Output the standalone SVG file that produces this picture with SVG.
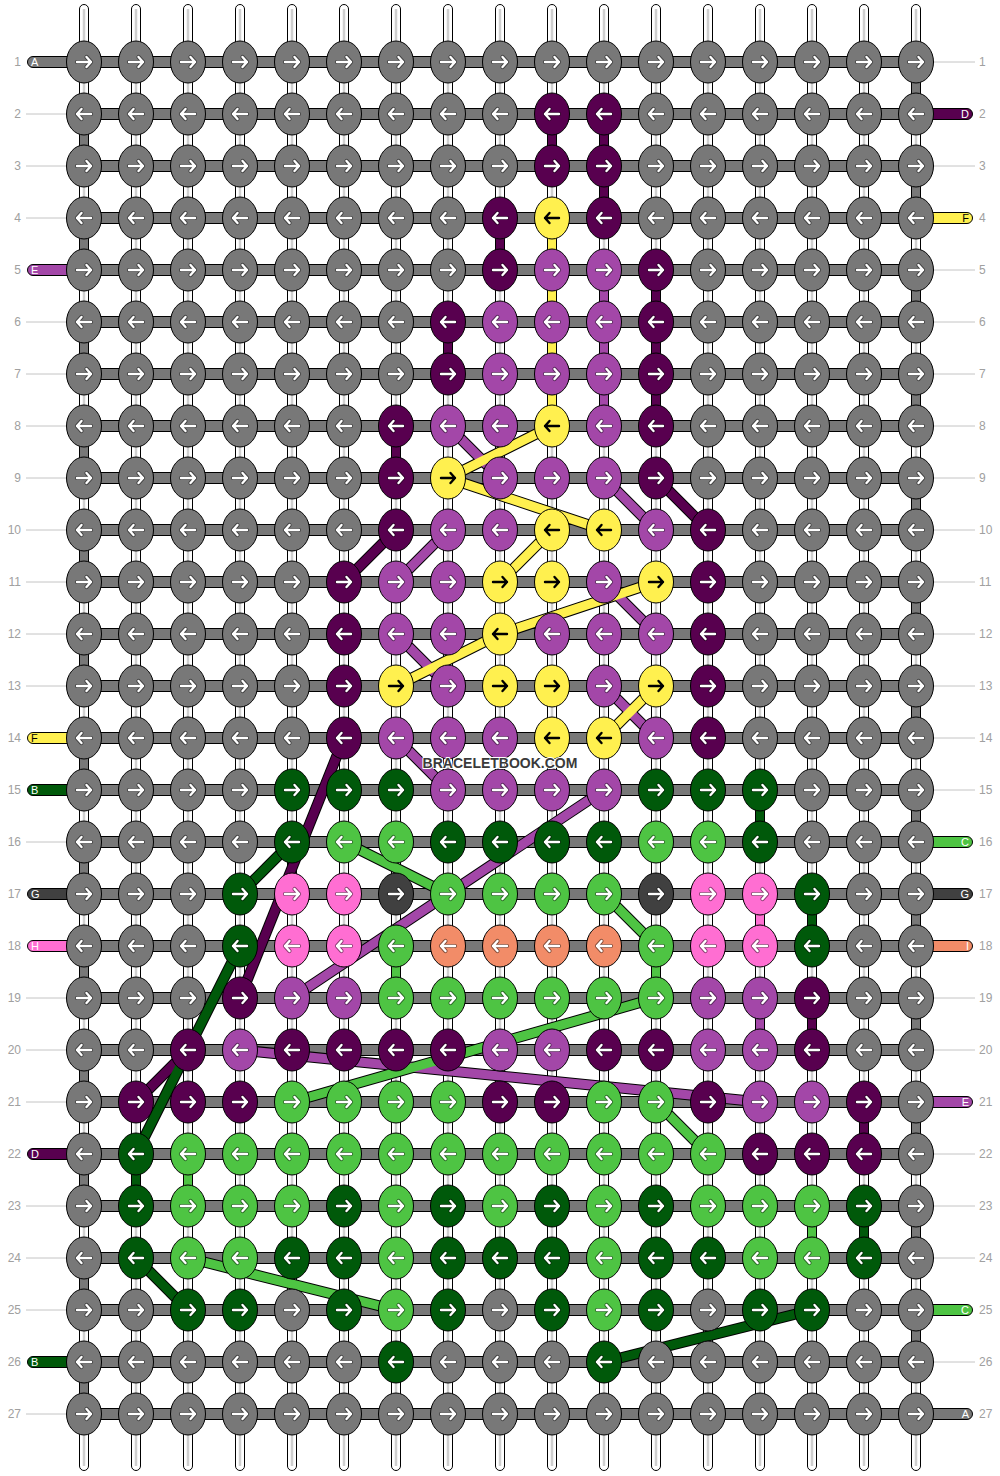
<svg xmlns="http://www.w3.org/2000/svg" xmlns:xlink="http://www.w3.org/1999/xlink" width="1000" height="1476" viewBox="0 0 1000 1476">
<style>
ellipse{stroke:#000;stroke-width:1}
.bar{fill:#787878;stroke:#000;stroke-width:1}
.pl{stroke:#000;stroke-width:1}
.g{fill:#787878}.p{fill:#58004f}.m{fill:#a347a8}.y{fill:#fff04f}.d{fill:#00590a}.l{fill:#4ec443}.k{fill:#404040}.h{fill:#ff6ed2}.o{fill:#f28c68}
.st{fill:#fff;stroke:#000;stroke-width:1}
.sl{stroke:#cfcfcf;stroke-width:2.5}
.seg rect{stroke:#000;stroke-width:1}
.ol{stroke:#000;stroke-width:11}
.tY{stroke:#fff04f;stroke-width:9}.tM{stroke:#a347a8;stroke-width:9}.tP{stroke:#58004f;stroke-width:9}.tD{stroke:#00590a;stroke-width:9}.tL{stroke:#4ec443;stroke-width:9}
.num{font-family:"Liberation Sans",Arial,sans-serif;font-size:12px;fill:#a0a0a0}
.lab{font-family:"Liberation Sans",Arial,sans-serif;font-size:11px;fill:#fff}
.labk{font-family:"Liberation Sans",Arial,sans-serif;font-size:11px;fill:#000}
.thin{stroke:#c4c4c4;stroke-width:1}
.aw{fill:none;stroke:#fff;stroke-width:2.4;stroke-linecap:round;stroke-linejoin:round}
.ao{fill:none;stroke:#000;stroke-opacity:.45;stroke-width:4.2;stroke-linecap:round;stroke-linejoin:round}
.ab{fill:none;stroke:#000;stroke-width:2.4;stroke-linecap:round;stroke-linejoin:round}
.wm{font-family:"Liberation Sans",Arial,sans-serif;font-size:14px;font-weight:bold;fill:#3a3a3a;stroke:#fff;stroke-width:2;paint-order:stroke;stroke-linejoin:round}
</style>
<defs>
<g id="R"><path class="ao" d="M-7 0H7M2.5-5L7 0 2.5 5"/><path class="aw" d="M-7 0H7M2.5-5L7 0 2.5 5"/></g>
<g id="L"><path class="ao" d="M7 0H-7M-2.5-5L-7 0-2.5 5"/><path class="aw" d="M7 0H-7M-2.5-5L-7 0-2.5 5"/></g>
<path id="Rb" class="ab" d="M-7 0H7M2.5-5L7 0 2.5 5"/>
<path id="Lb" class="ab" d="M7 0H-7M-2.5-5L-7 0-2.5 5"/>
</defs>
<rect width="1000" height="1476" fill="#fff"/>

<g id="rownumbers">
<g class="num" text-anchor="end">
<text x="21" y="66">1</text><text x="21" y="118">2</text><text x="21" y="170">3</text><text x="21" y="222">4</text><text x="21" y="274">5</text><text x="21" y="326">6</text><text x="21" y="378">7</text><text x="21" y="430">8</text><text x="21" y="482">9</text><text x="21" y="534">10</text><text x="21" y="586">11</text><text x="21" y="638">12</text><text x="21" y="690">13</text><text x="21" y="742">14</text><text x="21" y="794">15</text><text x="21" y="846">16</text><text x="21" y="898">17</text><text x="21" y="950">18</text><text x="21" y="1002">19</text><text x="21" y="1054">20</text><text x="21" y="1106">21</text><text x="21" y="1158">22</text><text x="21" y="1210">23</text><text x="21" y="1262">24</text><text x="21" y="1314">25</text><text x="21" y="1366">26</text><text x="21" y="1418">27</text>
</g>
<g class="num" text-anchor="start">
<text x="979" y="66">1</text><text x="979" y="118">2</text><text x="979" y="170">3</text><text x="979" y="222">4</text><text x="979" y="274">5</text><text x="979" y="326">6</text><text x="979" y="378">7</text><text x="979" y="430">8</text><text x="979" y="482">9</text><text x="979" y="534">10</text><text x="979" y="586">11</text><text x="979" y="638">12</text><text x="979" y="690">13</text><text x="979" y="742">14</text><text x="979" y="794">15</text><text x="979" y="846">16</text><text x="979" y="898">17</text><text x="979" y="950">18</text><text x="979" y="1002">19</text><text x="979" y="1054">20</text><text x="979" y="1106">21</text><text x="979" y="1158">22</text><text x="979" y="1210">23</text><text x="979" y="1262">24</text><text x="979" y="1314">25</text><text x="979" y="1366">26</text><text x="979" y="1418">27</text>
</g>
<g class="thin">
<line x1="26" y1="114" x2="67" y2="114"/><line x1="26" y1="166" x2="67" y2="166"/><line x1="26" y1="218" x2="67" y2="218"/><line x1="26" y1="322" x2="67" y2="322"/><line x1="26" y1="374" x2="67" y2="374"/><line x1="26" y1="426" x2="67" y2="426"/><line x1="26" y1="478" x2="67" y2="478"/><line x1="26" y1="530" x2="67" y2="530"/><line x1="26" y1="582" x2="67" y2="582"/><line x1="26" y1="634" x2="67" y2="634"/><line x1="26" y1="686" x2="67" y2="686"/><line x1="26" y1="842" x2="67" y2="842"/><line x1="26" y1="998" x2="67" y2="998"/><line x1="26" y1="1050" x2="67" y2="1050"/><line x1="26" y1="1102" x2="67" y2="1102"/><line x1="26" y1="1206" x2="67" y2="1206"/><line x1="26" y1="1258" x2="67" y2="1258"/><line x1="26" y1="1310" x2="67" y2="1310"/><line x1="26" y1="1414" x2="67" y2="1414"/>
<line x1="933" y1="62" x2="975" y2="62"/><line x1="933" y1="166" x2="975" y2="166"/><line x1="933" y1="270" x2="975" y2="270"/><line x1="933" y1="322" x2="975" y2="322"/><line x1="933" y1="374" x2="975" y2="374"/><line x1="933" y1="426" x2="975" y2="426"/><line x1="933" y1="478" x2="975" y2="478"/><line x1="933" y1="530" x2="975" y2="530"/><line x1="933" y1="582" x2="975" y2="582"/><line x1="933" y1="634" x2="975" y2="634"/><line x1="933" y1="686" x2="975" y2="686"/><line x1="933" y1="738" x2="975" y2="738"/><line x1="933" y1="790" x2="975" y2="790"/><line x1="933" y1="998" x2="975" y2="998"/><line x1="933" y1="1050" x2="975" y2="1050"/><line x1="933" y1="1154" x2="975" y2="1154"/><line x1="933" y1="1206" x2="975" y2="1206"/><line x1="933" y1="1258" x2="975" y2="1258"/><line x1="933" y1="1362" x2="975" y2="1362"/>
</g>
</g>

<g id="strings-in">
<g id="lbl-L1"><rect class="g pl" x="27.5" y="56.5" width="56" height="11" rx="5.5"/><text class="lab" x="31" y="66">A</text></g>
<g id="lbl-L5"><rect class="m pl" x="27.5" y="264.5" width="56" height="11" rx="5.5"/><text class="lab" x="31" y="274">E</text></g>
<g id="lbl-L14"><rect class="y pl" x="27.5" y="732.5" width="56" height="11" rx="5.5"/><text class="labk" x="31" y="742">F</text></g>
<g id="lbl-L15"><rect class="d pl" x="27.5" y="784.5" width="56" height="11" rx="5.5"/><text class="lab" x="31" y="794">B</text></g>
<g id="lbl-L17"><rect class="k pl" x="27.5" y="888.5" width="56" height="11" rx="5.5"/><text class="lab" x="31" y="898">G</text></g>
<g id="lbl-L18"><rect class="h pl" x="27.5" y="940.5" width="56" height="11" rx="5.5"/><text class="lab" x="31" y="950">H</text></g>
<g id="lbl-L22"><rect class="p pl" x="27.5" y="1148.5" width="56" height="11" rx="5.5"/><text class="lab" x="31" y="1158">D</text></g>
<g id="lbl-L26"><rect class="d pl" x="27.5" y="1356.5" width="56" height="11" rx="5.5"/><text class="lab" x="31" y="1366">B</text></g>
<g id="lbl-R2"><rect class="p pl" x="916.5" y="108.5" width="56" height="11" rx="5.5"/><text class="lab" x="969" y="118" text-anchor="end">D</text></g>
<g id="lbl-R4"><rect class="y pl" x="916.5" y="212.5" width="56" height="11" rx="5.5"/><text class="labk" x="969" y="222" text-anchor="end">F</text></g>
<g id="lbl-R16"><rect class="l pl" x="916.5" y="836.5" width="56" height="11" rx="5.5"/><text class="lab" x="969" y="846" text-anchor="end">C</text></g>
<g id="lbl-R17"><rect class="k pl" x="916.5" y="888.5" width="56" height="11" rx="5.5"/><text class="lab" x="969" y="898" text-anchor="end">G</text></g>
<g id="lbl-R18"><rect class="o pl" x="916.5" y="940.5" width="56" height="11" rx="5.5"/><text class="lab" x="969" y="950" text-anchor="end">I</text></g>
<g id="lbl-R21"><rect class="m pl" x="916.5" y="1096.5" width="56" height="11" rx="5.5"/><text class="lab" x="969" y="1106" text-anchor="end">E</text></g>
<g id="lbl-R25"><rect class="l pl" x="916.5" y="1304.5" width="56" height="11" rx="5.5"/><text class="lab" x="969" y="1314" text-anchor="end">C</text></g>
<g id="lbl-R27"><rect class="g pl" x="916.5" y="1408.5" width="56" height="11" rx="5.5"/><text class="lab" x="969" y="1418" text-anchor="end">A</text></g>
</g>

<g id="bars">
<rect class="bar" x="84" y="56.5" width="832" height="11"/><rect class="bar" x="84" y="108.5" width="832" height="11"/><rect class="bar" x="84" y="160.5" width="832" height="11"/><rect class="bar" x="84" y="212.5" width="832" height="11"/><rect class="bar" x="84" y="264.5" width="832" height="11"/><rect class="bar" x="84" y="316.5" width="832" height="11"/><rect class="bar" x="84" y="368.5" width="832" height="11"/><rect class="bar" x="84" y="420.5" width="832" height="11"/><rect class="bar" x="84" y="472.5" width="832" height="11"/><rect class="bar" x="84" y="524.5" width="832" height="11"/><rect class="bar" x="84" y="576.5" width="832" height="11"/><rect class="bar" x="84" y="628.5" width="832" height="11"/><rect class="bar" x="84" y="680.5" width="832" height="11"/><rect class="bar" x="84" y="732.5" width="832" height="11"/><rect class="bar" x="84" y="784.5" width="832" height="11"/><rect class="bar" x="84" y="836.5" width="832" height="11"/><rect class="bar" x="84" y="888.5" width="832" height="11"/><rect class="bar" x="84" y="940.5" width="832" height="11"/><rect class="bar" x="84" y="992.5" width="832" height="11"/><rect class="bar" x="84" y="1044.5" width="832" height="11"/><rect class="bar" x="84" y="1096.5" width="832" height="11"/><rect class="bar" x="84" y="1148.5" width="832" height="11"/><rect class="bar" x="84" y="1200.5" width="832" height="11"/><rect class="bar" x="84" y="1252.5" width="832" height="11"/><rect class="bar" x="84" y="1304.5" width="832" height="11"/><rect class="bar" x="84" y="1356.5" width="832" height="11"/><rect class="bar" x="84" y="1408.5" width="832" height="11"/>
</g>

<g id="base-strands">
<rect class="st" x="79.5" y="4.5" width="9" height="1466" rx="4.5"/><rect class="st" x="131.5" y="4.5" width="9" height="1466" rx="4.5"/><rect class="st" x="183.5" y="4.5" width="9" height="1466" rx="4.5"/><rect class="st" x="235.5" y="4.5" width="9" height="1466" rx="4.5"/><rect class="st" x="287.5" y="4.5" width="9" height="1466" rx="4.5"/><rect class="st" x="339.5" y="4.5" width="9" height="1466" rx="4.5"/><rect class="st" x="391.5" y="4.5" width="9" height="1466" rx="4.5"/><rect class="st" x="443.5" y="4.5" width="9" height="1466" rx="4.5"/><rect class="st" x="495.5" y="4.5" width="9" height="1466" rx="4.5"/><rect class="st" x="547.5" y="4.5" width="9" height="1466" rx="4.5"/><rect class="st" x="599.5" y="4.5" width="9" height="1466" rx="4.5"/><rect class="st" x="651.5" y="4.5" width="9" height="1466" rx="4.5"/><rect class="st" x="703.5" y="4.5" width="9" height="1466" rx="4.5"/><rect class="st" x="755.5" y="4.5" width="9" height="1466" rx="4.5"/><rect class="st" x="807.5" y="4.5" width="9" height="1466" rx="4.5"/><rect class="st" x="859.5" y="4.5" width="9" height="1466" rx="4.5"/><rect class="st" x="911.5" y="4.5" width="9" height="1466" rx="4.5"/>
<g class="sl">
<line x1="84" y1="9" x2="84" y2="1466"/><line x1="136" y1="9" x2="136" y2="1466"/><line x1="188" y1="9" x2="188" y2="1466"/><line x1="240" y1="9" x2="240" y2="1466"/><line x1="292" y1="9" x2="292" y2="1466"/><line x1="344" y1="9" x2="344" y2="1466"/><line x1="396" y1="9" x2="396" y2="1466"/><line x1="448" y1="9" x2="448" y2="1466"/><line x1="500" y1="9" x2="500" y2="1466"/><line x1="552" y1="9" x2="552" y2="1466"/><line x1="604" y1="9" x2="604" y2="1466"/><line x1="656" y1="9" x2="656" y2="1466"/><line x1="708" y1="9" x2="708" y2="1466"/><line x1="760" y1="9" x2="760" y2="1466"/><line x1="812" y1="9" x2="812" y2="1466"/><line x1="864" y1="9" x2="864" y2="1466"/><line x1="916" y1="9" x2="916" y2="1466"/>
</g>
</g>

<g id="connectors">
<g class="seg">
<rect class="g" x="79.5" y="130" width="9" height="20"/><rect class="g" x="79.5" y="234" width="9" height="20"/><rect class="g" x="79.5" y="338" width="9" height="20"/><rect class="g" x="79.5" y="442" width="9" height="20"/><rect class="g" x="79.5" y="546" width="9" height="20"/><rect class="g" x="79.5" y="650" width="9" height="20"/><rect class="g" x="79.5" y="754" width="9" height="20"/><rect class="g" x="79.5" y="858" width="9" height="20"/><rect class="g" x="79.5" y="962" width="9" height="20"/><rect class="g" x="79.5" y="1066" width="9" height="20"/><rect class="g" x="79.5" y="1170" width="9" height="20"/><rect class="g" x="79.5" y="1274" width="9" height="20"/><rect class="g" x="79.5" y="1378" width="9" height="20"/>
<rect class="g" x="911.5" y="78" width="9" height="20"/><rect class="g" x="911.5" y="182" width="9" height="20"/><rect class="g" x="911.5" y="286" width="9" height="20"/><rect class="g" x="911.5" y="390" width="9" height="20"/><rect class="g" x="911.5" y="494" width="9" height="20"/><rect class="g" x="911.5" y="598" width="9" height="20"/><rect class="g" x="911.5" y="702" width="9" height="20"/><rect class="g" x="911.5" y="806" width="9" height="20"/><rect class="g" x="911.5" y="910" width="9" height="20"/><rect class="g" x="911.5" y="1014" width="9" height="20"/><rect class="g" x="911.5" y="1118" width="9" height="20"/><rect class="g" x="911.5" y="1222" width="9" height="20"/><rect class="g" x="911.5" y="1326" width="9" height="20"/>
<rect class="p" x="547.5" y="130" width="9" height="20"/><rect class="p" x="599.5" y="130" width="9" height="20"/><rect class="p" x="599.5" y="182" width="9" height="20"/>
<rect class="p" x="495.5" y="234" width="9" height="20"/>
<rect class="y" x="547.5" y="234" width="9" height="20"/><rect class="y" x="547.5" y="286" width="9" height="20"/><rect class="y" x="547.5" y="338" width="9" height="20"/><rect class="y" x="547.5" y="390" width="9" height="20"/>
<rect class="m" x="599.5" y="286" width="9" height="20"/><rect class="m" x="599.5" y="338" width="9" height="20"/><rect class="m" x="599.5" y="390" width="9" height="20"/>
<rect class="p" x="651.5" y="286" width="9" height="20"/><rect class="p" x="651.5" y="338" width="9" height="20"/><rect class="p" x="651.5" y="390" width="9" height="20"/>
<rect class="p" x="443.5" y="338" width="9" height="20"/>
<rect class="p" x="391.5" y="442" width="9" height="20"/>
<rect class="d" x="755.5" y="806" width="9" height="20"/>
<rect class="h" x="755.5" y="910" width="9" height="20"/><rect class="d" x="807.5" y="910" width="9" height="20"/>
<rect class="l" x="391.5" y="962" width="9" height="20"/><rect class="l" x="651.5" y="962" width="9" height="20"/>
<rect class="m" x="755.5" y="1014" width="9" height="20"/><rect class="p" x="807.5" y="1014" width="9" height="20"/>
<rect class="p" x="859.5" y="1118" width="9" height="20"/>
<rect class="d" x="131.5" y="1170" width="9" height="20"/><rect class="l" x="183.5" y="1170" width="9" height="20"/>
<rect class="l" x="807.5" y="1222" width="9" height="20"/><rect class="d" x="859.5" y="1222" width="9" height="20"/>
</g>
<g class="ol">
<line x1="656" y1="478" x2="708" y2="530"/><line x1="396" y1="530" x2="344" y2="582"/><line x1="344" y1="738" x2="240" y2="998"/><line x1="188" y1="1050" x2="136" y2="1102"/>
<line x1="448" y1="426" x2="500" y2="478"/><line x1="604" y1="478" x2="656" y2="530"/><line x1="448" y1="530" x2="396" y2="582"/><line x1="604" y1="582" x2="656" y2="634"/><line x1="396" y1="634" x2="448" y2="686"/><line x1="604" y1="686" x2="656" y2="738"/><line x1="396" y1="738" x2="448" y2="790"/><line x1="604" y1="790" x2="292" y2="998"/><line x1="240" y1="1050" x2="760" y2="1102"/>
<line x1="552" y1="426" x2="448" y2="478"/><line x1="448" y1="478" x2="604" y2="530"/><line x1="552" y1="530" x2="500" y2="582"/><line x1="656" y1="582" x2="500" y2="634"/><line x1="500" y1="634" x2="396" y2="686"/><line x1="656" y1="686" x2="604" y2="738"/>
<line x1="292" y1="842" x2="240" y2="894"/><line x1="240" y1="946" x2="136" y2="1154"/><line x1="136" y1="1258" x2="188" y2="1310"/><line x1="604" y1="1362" x2="812" y2="1310"/>
<line x1="344" y1="842" x2="448" y2="894"/><line x1="604" y1="894" x2="656" y2="946"/><line x1="656" y1="998" x2="292" y2="1102"/><line x1="656" y1="1102" x2="708" y2="1154"/><line x1="188" y1="1258" x2="396" y2="1310"/>
</g>
<g class="tP">
<line x1="656" y1="478" x2="708" y2="530"/><line x1="396" y1="530" x2="344" y2="582"/><line x1="344" y1="738" x2="240" y2="998"/><line x1="188" y1="1050" x2="136" y2="1102"/>
</g>
<g class="tM">
<line x1="448" y1="426" x2="500" y2="478"/><line x1="604" y1="478" x2="656" y2="530"/><line x1="448" y1="530" x2="396" y2="582"/><line x1="604" y1="582" x2="656" y2="634"/><line x1="396" y1="634" x2="448" y2="686"/><line x1="604" y1="686" x2="656" y2="738"/><line x1="396" y1="738" x2="448" y2="790"/><line x1="604" y1="790" x2="292" y2="998"/><line x1="240" y1="1050" x2="760" y2="1102"/>
</g>
<g class="tY">
<line x1="552" y1="426" x2="448" y2="478"/><line x1="448" y1="478" x2="604" y2="530"/><line x1="552" y1="530" x2="500" y2="582"/><line x1="656" y1="582" x2="500" y2="634"/><line x1="500" y1="634" x2="396" y2="686"/><line x1="656" y1="686" x2="604" y2="738"/>
</g>
<g class="tD">
<line x1="292" y1="842" x2="240" y2="894"/><line x1="240" y1="946" x2="136" y2="1154"/><line x1="136" y1="1258" x2="188" y2="1310"/><line x1="604" y1="1362" x2="812" y2="1310"/>
</g>
<g class="tL">
<line x1="344" y1="842" x2="448" y2="894"/><line x1="604" y1="894" x2="656" y2="946"/><line x1="656" y1="998" x2="292" y2="1102"/><line x1="656" y1="1102" x2="708" y2="1154"/><line x1="188" y1="1258" x2="396" y2="1310"/>
</g>
</g>

<g id="knots">
<g id="row1" transform="translate(0 62)">
<g id="k1-1" transform="translate(84)"><ellipse class="g" rx="17.5" ry="21"/><use href="#R"/></g><g id="k1-2" transform="translate(136)"><ellipse class="g" rx="17.5" ry="21"/><use href="#R"/></g><g id="k1-3" transform="translate(188)"><ellipse class="g" rx="17.5" ry="21"/><use href="#R"/></g><g id="k1-4" transform="translate(240)"><ellipse class="g" rx="17.5" ry="21"/><use href="#R"/></g><g id="k1-5" transform="translate(292)"><ellipse class="g" rx="17.5" ry="21"/><use href="#R"/></g><g id="k1-6" transform="translate(344)"><ellipse class="g" rx="17.5" ry="21"/><use href="#R"/></g><g id="k1-7" transform="translate(396)"><ellipse class="g" rx="17.5" ry="21"/><use href="#R"/></g><g id="k1-8" transform="translate(448)"><ellipse class="g" rx="17.5" ry="21"/><use href="#R"/></g><g id="k1-9" transform="translate(500)"><ellipse class="g" rx="17.5" ry="21"/><use href="#R"/></g><g id="k1-10" transform="translate(552)"><ellipse class="g" rx="17.5" ry="21"/><use href="#R"/></g><g id="k1-11" transform="translate(604)"><ellipse class="g" rx="17.5" ry="21"/><use href="#R"/></g><g id="k1-12" transform="translate(656)"><ellipse class="g" rx="17.5" ry="21"/><use href="#R"/></g><g id="k1-13" transform="translate(708)"><ellipse class="g" rx="17.5" ry="21"/><use href="#R"/></g><g id="k1-14" transform="translate(760)"><ellipse class="g" rx="17.5" ry="21"/><use href="#R"/></g><g id="k1-15" transform="translate(812)"><ellipse class="g" rx="17.5" ry="21"/><use href="#R"/></g><g id="k1-16" transform="translate(864)"><ellipse class="g" rx="17.5" ry="21"/><use href="#R"/></g><g id="k1-17" transform="translate(916)"><ellipse class="g" rx="17.5" ry="21"/><use href="#R"/></g>
</g>
<g id="row2" transform="translate(0 114)">
<g id="k2-1" transform="translate(84)"><ellipse class="g" rx="17.5" ry="21"/><use href="#L"/></g><g id="k2-2" transform="translate(136)"><ellipse class="g" rx="17.5" ry="21"/><use href="#L"/></g><g id="k2-3" transform="translate(188)"><ellipse class="g" rx="17.5" ry="21"/><use href="#L"/></g><g id="k2-4" transform="translate(240)"><ellipse class="g" rx="17.5" ry="21"/><use href="#L"/></g><g id="k2-5" transform="translate(292)"><ellipse class="g" rx="17.5" ry="21"/><use href="#L"/></g><g id="k2-6" transform="translate(344)"><ellipse class="g" rx="17.5" ry="21"/><use href="#L"/></g><g id="k2-7" transform="translate(396)"><ellipse class="g" rx="17.5" ry="21"/><use href="#L"/></g><g id="k2-8" transform="translate(448)"><ellipse class="g" rx="17.5" ry="21"/><use href="#L"/></g><g id="k2-9" transform="translate(500)"><ellipse class="g" rx="17.5" ry="21"/><use href="#L"/></g><g id="k2-10" transform="translate(552)"><ellipse class="p" rx="17.5" ry="21"/><use href="#L"/></g><g id="k2-11" transform="translate(604)"><ellipse class="p" rx="17.5" ry="21"/><use href="#L"/></g><g id="k2-12" transform="translate(656)"><ellipse class="g" rx="17.5" ry="21"/><use href="#L"/></g><g id="k2-13" transform="translate(708)"><ellipse class="g" rx="17.5" ry="21"/><use href="#L"/></g><g id="k2-14" transform="translate(760)"><ellipse class="g" rx="17.5" ry="21"/><use href="#L"/></g><g id="k2-15" transform="translate(812)"><ellipse class="g" rx="17.5" ry="21"/><use href="#L"/></g><g id="k2-16" transform="translate(864)"><ellipse class="g" rx="17.5" ry="21"/><use href="#L"/></g><g id="k2-17" transform="translate(916)"><ellipse class="g" rx="17.5" ry="21"/><use href="#L"/></g>
</g>
<g id="row3" transform="translate(0 166)">
<g id="k3-1" transform="translate(84)"><ellipse class="g" rx="17.5" ry="21"/><use href="#R"/></g><g id="k3-2" transform="translate(136)"><ellipse class="g" rx="17.5" ry="21"/><use href="#R"/></g><g id="k3-3" transform="translate(188)"><ellipse class="g" rx="17.5" ry="21"/><use href="#R"/></g><g id="k3-4" transform="translate(240)"><ellipse class="g" rx="17.5" ry="21"/><use href="#R"/></g><g id="k3-5" transform="translate(292)"><ellipse class="g" rx="17.5" ry="21"/><use href="#R"/></g><g id="k3-6" transform="translate(344)"><ellipse class="g" rx="17.5" ry="21"/><use href="#R"/></g><g id="k3-7" transform="translate(396)"><ellipse class="g" rx="17.5" ry="21"/><use href="#R"/></g><g id="k3-8" transform="translate(448)"><ellipse class="g" rx="17.5" ry="21"/><use href="#R"/></g><g id="k3-9" transform="translate(500)"><ellipse class="g" rx="17.5" ry="21"/><use href="#R"/></g><g id="k3-10" transform="translate(552)"><ellipse class="p" rx="17.5" ry="21"/><use href="#R"/></g><g id="k3-11" transform="translate(604)"><ellipse class="p" rx="17.5" ry="21"/><use href="#R"/></g><g id="k3-12" transform="translate(656)"><ellipse class="g" rx="17.5" ry="21"/><use href="#R"/></g><g id="k3-13" transform="translate(708)"><ellipse class="g" rx="17.5" ry="21"/><use href="#R"/></g><g id="k3-14" transform="translate(760)"><ellipse class="g" rx="17.5" ry="21"/><use href="#R"/></g><g id="k3-15" transform="translate(812)"><ellipse class="g" rx="17.5" ry="21"/><use href="#R"/></g><g id="k3-16" transform="translate(864)"><ellipse class="g" rx="17.5" ry="21"/><use href="#R"/></g><g id="k3-17" transform="translate(916)"><ellipse class="g" rx="17.5" ry="21"/><use href="#R"/></g>
</g>
<g id="row4" transform="translate(0 218)">
<g id="k4-1" transform="translate(84)"><ellipse class="g" rx="17.5" ry="21"/><use href="#L"/></g><g id="k4-2" transform="translate(136)"><ellipse class="g" rx="17.5" ry="21"/><use href="#L"/></g><g id="k4-3" transform="translate(188)"><ellipse class="g" rx="17.5" ry="21"/><use href="#L"/></g><g id="k4-4" transform="translate(240)"><ellipse class="g" rx="17.5" ry="21"/><use href="#L"/></g><g id="k4-5" transform="translate(292)"><ellipse class="g" rx="17.5" ry="21"/><use href="#L"/></g><g id="k4-6" transform="translate(344)"><ellipse class="g" rx="17.5" ry="21"/><use href="#L"/></g><g id="k4-7" transform="translate(396)"><ellipse class="g" rx="17.5" ry="21"/><use href="#L"/></g><g id="k4-8" transform="translate(448)"><ellipse class="g" rx="17.5" ry="21"/><use href="#L"/></g><g id="k4-9" transform="translate(500)"><ellipse class="p" rx="17.5" ry="21"/><use href="#L"/></g><g id="k4-10" transform="translate(552)"><ellipse class="y" rx="17.5" ry="21"/><use href="#Lb"/></g><g id="k4-11" transform="translate(604)"><ellipse class="p" rx="17.5" ry="21"/><use href="#L"/></g><g id="k4-12" transform="translate(656)"><ellipse class="g" rx="17.5" ry="21"/><use href="#L"/></g><g id="k4-13" transform="translate(708)"><ellipse class="g" rx="17.5" ry="21"/><use href="#L"/></g><g id="k4-14" transform="translate(760)"><ellipse class="g" rx="17.5" ry="21"/><use href="#L"/></g><g id="k4-15" transform="translate(812)"><ellipse class="g" rx="17.5" ry="21"/><use href="#L"/></g><g id="k4-16" transform="translate(864)"><ellipse class="g" rx="17.5" ry="21"/><use href="#L"/></g><g id="k4-17" transform="translate(916)"><ellipse class="g" rx="17.5" ry="21"/><use href="#L"/></g>
</g>
<g id="row5" transform="translate(0 270)">
<g id="k5-1" transform="translate(84)"><ellipse class="g" rx="17.5" ry="21"/><use href="#R"/></g><g id="k5-2" transform="translate(136)"><ellipse class="g" rx="17.5" ry="21"/><use href="#R"/></g><g id="k5-3" transform="translate(188)"><ellipse class="g" rx="17.5" ry="21"/><use href="#R"/></g><g id="k5-4" transform="translate(240)"><ellipse class="g" rx="17.5" ry="21"/><use href="#R"/></g><g id="k5-5" transform="translate(292)"><ellipse class="g" rx="17.5" ry="21"/><use href="#R"/></g><g id="k5-6" transform="translate(344)"><ellipse class="g" rx="17.5" ry="21"/><use href="#R"/></g><g id="k5-7" transform="translate(396)"><ellipse class="g" rx="17.5" ry="21"/><use href="#R"/></g><g id="k5-8" transform="translate(448)"><ellipse class="g" rx="17.5" ry="21"/><use href="#R"/></g><g id="k5-9" transform="translate(500)"><ellipse class="p" rx="17.5" ry="21"/><use href="#R"/></g><g id="k5-10" transform="translate(552)"><ellipse class="m" rx="17.5" ry="21"/><use href="#R"/></g><g id="k5-11" transform="translate(604)"><ellipse class="m" rx="17.5" ry="21"/><use href="#R"/></g><g id="k5-12" transform="translate(656)"><ellipse class="p" rx="17.5" ry="21"/><use href="#R"/></g><g id="k5-13" transform="translate(708)"><ellipse class="g" rx="17.5" ry="21"/><use href="#R"/></g><g id="k5-14" transform="translate(760)"><ellipse class="g" rx="17.5" ry="21"/><use href="#R"/></g><g id="k5-15" transform="translate(812)"><ellipse class="g" rx="17.5" ry="21"/><use href="#R"/></g><g id="k5-16" transform="translate(864)"><ellipse class="g" rx="17.5" ry="21"/><use href="#R"/></g><g id="k5-17" transform="translate(916)"><ellipse class="g" rx="17.5" ry="21"/><use href="#R"/></g>
</g>
<g id="row6" transform="translate(0 322)">
<g id="k6-1" transform="translate(84)"><ellipse class="g" rx="17.5" ry="21"/><use href="#L"/></g><g id="k6-2" transform="translate(136)"><ellipse class="g" rx="17.5" ry="21"/><use href="#L"/></g><g id="k6-3" transform="translate(188)"><ellipse class="g" rx="17.5" ry="21"/><use href="#L"/></g><g id="k6-4" transform="translate(240)"><ellipse class="g" rx="17.5" ry="21"/><use href="#L"/></g><g id="k6-5" transform="translate(292)"><ellipse class="g" rx="17.5" ry="21"/><use href="#L"/></g><g id="k6-6" transform="translate(344)"><ellipse class="g" rx="17.5" ry="21"/><use href="#L"/></g><g id="k6-7" transform="translate(396)"><ellipse class="g" rx="17.5" ry="21"/><use href="#L"/></g><g id="k6-8" transform="translate(448)"><ellipse class="p" rx="17.5" ry="21"/><use href="#L"/></g><g id="k6-9" transform="translate(500)"><ellipse class="m" rx="17.5" ry="21"/><use href="#L"/></g><g id="k6-10" transform="translate(552)"><ellipse class="m" rx="17.5" ry="21"/><use href="#L"/></g><g id="k6-11" transform="translate(604)"><ellipse class="m" rx="17.5" ry="21"/><use href="#L"/></g><g id="k6-12" transform="translate(656)"><ellipse class="p" rx="17.5" ry="21"/><use href="#L"/></g><g id="k6-13" transform="translate(708)"><ellipse class="g" rx="17.5" ry="21"/><use href="#L"/></g><g id="k6-14" transform="translate(760)"><ellipse class="g" rx="17.5" ry="21"/><use href="#L"/></g><g id="k6-15" transform="translate(812)"><ellipse class="g" rx="17.5" ry="21"/><use href="#L"/></g><g id="k6-16" transform="translate(864)"><ellipse class="g" rx="17.5" ry="21"/><use href="#L"/></g><g id="k6-17" transform="translate(916)"><ellipse class="g" rx="17.5" ry="21"/><use href="#L"/></g>
</g>
<g id="row7" transform="translate(0 374)">
<g id="k7-1" transform="translate(84)"><ellipse class="g" rx="17.5" ry="21"/><use href="#R"/></g><g id="k7-2" transform="translate(136)"><ellipse class="g" rx="17.5" ry="21"/><use href="#R"/></g><g id="k7-3" transform="translate(188)"><ellipse class="g" rx="17.5" ry="21"/><use href="#R"/></g><g id="k7-4" transform="translate(240)"><ellipse class="g" rx="17.5" ry="21"/><use href="#R"/></g><g id="k7-5" transform="translate(292)"><ellipse class="g" rx="17.5" ry="21"/><use href="#R"/></g><g id="k7-6" transform="translate(344)"><ellipse class="g" rx="17.5" ry="21"/><use href="#R"/></g><g id="k7-7" transform="translate(396)"><ellipse class="g" rx="17.5" ry="21"/><use href="#R"/></g><g id="k7-8" transform="translate(448)"><ellipse class="p" rx="17.5" ry="21"/><use href="#R"/></g><g id="k7-9" transform="translate(500)"><ellipse class="m" rx="17.5" ry="21"/><use href="#R"/></g><g id="k7-10" transform="translate(552)"><ellipse class="m" rx="17.5" ry="21"/><use href="#R"/></g><g id="k7-11" transform="translate(604)"><ellipse class="m" rx="17.5" ry="21"/><use href="#R"/></g><g id="k7-12" transform="translate(656)"><ellipse class="p" rx="17.5" ry="21"/><use href="#R"/></g><g id="k7-13" transform="translate(708)"><ellipse class="g" rx="17.5" ry="21"/><use href="#R"/></g><g id="k7-14" transform="translate(760)"><ellipse class="g" rx="17.5" ry="21"/><use href="#R"/></g><g id="k7-15" transform="translate(812)"><ellipse class="g" rx="17.5" ry="21"/><use href="#R"/></g><g id="k7-16" transform="translate(864)"><ellipse class="g" rx="17.5" ry="21"/><use href="#R"/></g><g id="k7-17" transform="translate(916)"><ellipse class="g" rx="17.5" ry="21"/><use href="#R"/></g>
</g>
<g id="row8" transform="translate(0 426)">
<g id="k8-1" transform="translate(84)"><ellipse class="g" rx="17.5" ry="21"/><use href="#L"/></g><g id="k8-2" transform="translate(136)"><ellipse class="g" rx="17.5" ry="21"/><use href="#L"/></g><g id="k8-3" transform="translate(188)"><ellipse class="g" rx="17.5" ry="21"/><use href="#L"/></g><g id="k8-4" transform="translate(240)"><ellipse class="g" rx="17.5" ry="21"/><use href="#L"/></g><g id="k8-5" transform="translate(292)"><ellipse class="g" rx="17.5" ry="21"/><use href="#L"/></g><g id="k8-6" transform="translate(344)"><ellipse class="g" rx="17.5" ry="21"/><use href="#L"/></g><g id="k8-7" transform="translate(396)"><ellipse class="p" rx="17.5" ry="21"/><use href="#L"/></g><g id="k8-8" transform="translate(448)"><ellipse class="m" rx="17.5" ry="21"/><use href="#L"/></g><g id="k8-9" transform="translate(500)"><ellipse class="m" rx="17.5" ry="21"/><use href="#L"/></g><g id="k8-10" transform="translate(552)"><ellipse class="y" rx="17.5" ry="21"/><use href="#Lb"/></g><g id="k8-11" transform="translate(604)"><ellipse class="m" rx="17.5" ry="21"/><use href="#L"/></g><g id="k8-12" transform="translate(656)"><ellipse class="p" rx="17.5" ry="21"/><use href="#L"/></g><g id="k8-13" transform="translate(708)"><ellipse class="g" rx="17.5" ry="21"/><use href="#L"/></g><g id="k8-14" transform="translate(760)"><ellipse class="g" rx="17.5" ry="21"/><use href="#L"/></g><g id="k8-15" transform="translate(812)"><ellipse class="g" rx="17.5" ry="21"/><use href="#L"/></g><g id="k8-16" transform="translate(864)"><ellipse class="g" rx="17.5" ry="21"/><use href="#L"/></g><g id="k8-17" transform="translate(916)"><ellipse class="g" rx="17.5" ry="21"/><use href="#L"/></g>
</g>
<g id="row9" transform="translate(0 478)">
<g id="k9-1" transform="translate(84)"><ellipse class="g" rx="17.5" ry="21"/><use href="#R"/></g><g id="k9-2" transform="translate(136)"><ellipse class="g" rx="17.5" ry="21"/><use href="#R"/></g><g id="k9-3" transform="translate(188)"><ellipse class="g" rx="17.5" ry="21"/><use href="#R"/></g><g id="k9-4" transform="translate(240)"><ellipse class="g" rx="17.5" ry="21"/><use href="#R"/></g><g id="k9-5" transform="translate(292)"><ellipse class="g" rx="17.5" ry="21"/><use href="#R"/></g><g id="k9-6" transform="translate(344)"><ellipse class="g" rx="17.5" ry="21"/><use href="#R"/></g><g id="k9-7" transform="translate(396)"><ellipse class="p" rx="17.5" ry="21"/><use href="#R"/></g><g id="k9-8" transform="translate(448)"><ellipse class="y" rx="17.5" ry="21"/><use href="#Rb"/></g><g id="k9-9" transform="translate(500)"><ellipse class="m" rx="17.5" ry="21"/><use href="#R"/></g><g id="k9-10" transform="translate(552)"><ellipse class="m" rx="17.5" ry="21"/><use href="#R"/></g><g id="k9-11" transform="translate(604)"><ellipse class="m" rx="17.5" ry="21"/><use href="#R"/></g><g id="k9-12" transform="translate(656)"><ellipse class="p" rx="17.5" ry="21"/><use href="#R"/></g><g id="k9-13" transform="translate(708)"><ellipse class="g" rx="17.5" ry="21"/><use href="#R"/></g><g id="k9-14" transform="translate(760)"><ellipse class="g" rx="17.5" ry="21"/><use href="#R"/></g><g id="k9-15" transform="translate(812)"><ellipse class="g" rx="17.5" ry="21"/><use href="#R"/></g><g id="k9-16" transform="translate(864)"><ellipse class="g" rx="17.5" ry="21"/><use href="#R"/></g><g id="k9-17" transform="translate(916)"><ellipse class="g" rx="17.5" ry="21"/><use href="#R"/></g>
</g>
<g id="row10" transform="translate(0 530)">
<g id="k10-1" transform="translate(84)"><ellipse class="g" rx="17.5" ry="21"/><use href="#L"/></g><g id="k10-2" transform="translate(136)"><ellipse class="g" rx="17.5" ry="21"/><use href="#L"/></g><g id="k10-3" transform="translate(188)"><ellipse class="g" rx="17.5" ry="21"/><use href="#L"/></g><g id="k10-4" transform="translate(240)"><ellipse class="g" rx="17.5" ry="21"/><use href="#L"/></g><g id="k10-5" transform="translate(292)"><ellipse class="g" rx="17.5" ry="21"/><use href="#L"/></g><g id="k10-6" transform="translate(344)"><ellipse class="g" rx="17.5" ry="21"/><use href="#L"/></g><g id="k10-7" transform="translate(396)"><ellipse class="p" rx="17.5" ry="21"/><use href="#L"/></g><g id="k10-8" transform="translate(448)"><ellipse class="m" rx="17.5" ry="21"/><use href="#L"/></g><g id="k10-9" transform="translate(500)"><ellipse class="m" rx="17.5" ry="21"/><use href="#L"/></g><g id="k10-10" transform="translate(552)"><ellipse class="y" rx="17.5" ry="21"/><use href="#Lb"/></g><g id="k10-11" transform="translate(604)"><ellipse class="y" rx="17.5" ry="21"/><use href="#Lb"/></g><g id="k10-12" transform="translate(656)"><ellipse class="m" rx="17.5" ry="21"/><use href="#L"/></g><g id="k10-13" transform="translate(708)"><ellipse class="p" rx="17.5" ry="21"/><use href="#L"/></g><g id="k10-14" transform="translate(760)"><ellipse class="g" rx="17.5" ry="21"/><use href="#L"/></g><g id="k10-15" transform="translate(812)"><ellipse class="g" rx="17.5" ry="21"/><use href="#L"/></g><g id="k10-16" transform="translate(864)"><ellipse class="g" rx="17.5" ry="21"/><use href="#L"/></g><g id="k10-17" transform="translate(916)"><ellipse class="g" rx="17.5" ry="21"/><use href="#L"/></g>
</g>
<g id="row11" transform="translate(0 582)">
<g id="k11-1" transform="translate(84)"><ellipse class="g" rx="17.5" ry="21"/><use href="#R"/></g><g id="k11-2" transform="translate(136)"><ellipse class="g" rx="17.5" ry="21"/><use href="#R"/></g><g id="k11-3" transform="translate(188)"><ellipse class="g" rx="17.5" ry="21"/><use href="#R"/></g><g id="k11-4" transform="translate(240)"><ellipse class="g" rx="17.5" ry="21"/><use href="#R"/></g><g id="k11-5" transform="translate(292)"><ellipse class="g" rx="17.5" ry="21"/><use href="#R"/></g><g id="k11-6" transform="translate(344)"><ellipse class="p" rx="17.5" ry="21"/><use href="#R"/></g><g id="k11-7" transform="translate(396)"><ellipse class="m" rx="17.5" ry="21"/><use href="#R"/></g><g id="k11-8" transform="translate(448)"><ellipse class="m" rx="17.5" ry="21"/><use href="#R"/></g><g id="k11-9" transform="translate(500)"><ellipse class="y" rx="17.5" ry="21"/><use href="#Rb"/></g><g id="k11-10" transform="translate(552)"><ellipse class="y" rx="17.5" ry="21"/><use href="#Rb"/></g><g id="k11-11" transform="translate(604)"><ellipse class="m" rx="17.5" ry="21"/><use href="#R"/></g><g id="k11-12" transform="translate(656)"><ellipse class="y" rx="17.5" ry="21"/><use href="#Rb"/></g><g id="k11-13" transform="translate(708)"><ellipse class="p" rx="17.5" ry="21"/><use href="#R"/></g><g id="k11-14" transform="translate(760)"><ellipse class="g" rx="17.5" ry="21"/><use href="#R"/></g><g id="k11-15" transform="translate(812)"><ellipse class="g" rx="17.5" ry="21"/><use href="#R"/></g><g id="k11-16" transform="translate(864)"><ellipse class="g" rx="17.5" ry="21"/><use href="#R"/></g><g id="k11-17" transform="translate(916)"><ellipse class="g" rx="17.5" ry="21"/><use href="#R"/></g>
</g>
<g id="row12" transform="translate(0 634)">
<g id="k12-1" transform="translate(84)"><ellipse class="g" rx="17.5" ry="21"/><use href="#L"/></g><g id="k12-2" transform="translate(136)"><ellipse class="g" rx="17.5" ry="21"/><use href="#L"/></g><g id="k12-3" transform="translate(188)"><ellipse class="g" rx="17.5" ry="21"/><use href="#L"/></g><g id="k12-4" transform="translate(240)"><ellipse class="g" rx="17.5" ry="21"/><use href="#L"/></g><g id="k12-5" transform="translate(292)"><ellipse class="g" rx="17.5" ry="21"/><use href="#L"/></g><g id="k12-6" transform="translate(344)"><ellipse class="p" rx="17.5" ry="21"/><use href="#L"/></g><g id="k12-7" transform="translate(396)"><ellipse class="m" rx="17.5" ry="21"/><use href="#L"/></g><g id="k12-8" transform="translate(448)"><ellipse class="m" rx="17.5" ry="21"/><use href="#L"/></g><g id="k12-9" transform="translate(500)"><ellipse class="y" rx="17.5" ry="21"/><use href="#Lb"/></g><g id="k12-10" transform="translate(552)"><ellipse class="m" rx="17.5" ry="21"/><use href="#L"/></g><g id="k12-11" transform="translate(604)"><ellipse class="m" rx="17.5" ry="21"/><use href="#L"/></g><g id="k12-12" transform="translate(656)"><ellipse class="m" rx="17.5" ry="21"/><use href="#L"/></g><g id="k12-13" transform="translate(708)"><ellipse class="p" rx="17.5" ry="21"/><use href="#L"/></g><g id="k12-14" transform="translate(760)"><ellipse class="g" rx="17.5" ry="21"/><use href="#L"/></g><g id="k12-15" transform="translate(812)"><ellipse class="g" rx="17.5" ry="21"/><use href="#L"/></g><g id="k12-16" transform="translate(864)"><ellipse class="g" rx="17.5" ry="21"/><use href="#L"/></g><g id="k12-17" transform="translate(916)"><ellipse class="g" rx="17.5" ry="21"/><use href="#L"/></g>
</g>
<g id="row13" transform="translate(0 686)">
<g id="k13-1" transform="translate(84)"><ellipse class="g" rx="17.5" ry="21"/><use href="#R"/></g><g id="k13-2" transform="translate(136)"><ellipse class="g" rx="17.5" ry="21"/><use href="#R"/></g><g id="k13-3" transform="translate(188)"><ellipse class="g" rx="17.5" ry="21"/><use href="#R"/></g><g id="k13-4" transform="translate(240)"><ellipse class="g" rx="17.5" ry="21"/><use href="#R"/></g><g id="k13-5" transform="translate(292)"><ellipse class="g" rx="17.5" ry="21"/><use href="#R"/></g><g id="k13-6" transform="translate(344)"><ellipse class="p" rx="17.5" ry="21"/><use href="#R"/></g><g id="k13-7" transform="translate(396)"><ellipse class="y" rx="17.5" ry="21"/><use href="#Rb"/></g><g id="k13-8" transform="translate(448)"><ellipse class="m" rx="17.5" ry="21"/><use href="#R"/></g><g id="k13-9" transform="translate(500)"><ellipse class="y" rx="17.5" ry="21"/><use href="#Rb"/></g><g id="k13-10" transform="translate(552)"><ellipse class="y" rx="17.5" ry="21"/><use href="#Rb"/></g><g id="k13-11" transform="translate(604)"><ellipse class="m" rx="17.5" ry="21"/><use href="#R"/></g><g id="k13-12" transform="translate(656)"><ellipse class="y" rx="17.5" ry="21"/><use href="#Rb"/></g><g id="k13-13" transform="translate(708)"><ellipse class="p" rx="17.5" ry="21"/><use href="#R"/></g><g id="k13-14" transform="translate(760)"><ellipse class="g" rx="17.5" ry="21"/><use href="#R"/></g><g id="k13-15" transform="translate(812)"><ellipse class="g" rx="17.5" ry="21"/><use href="#R"/></g><g id="k13-16" transform="translate(864)"><ellipse class="g" rx="17.5" ry="21"/><use href="#R"/></g><g id="k13-17" transform="translate(916)"><ellipse class="g" rx="17.5" ry="21"/><use href="#R"/></g>
</g>
<g id="row14" transform="translate(0 738)">
<g id="k14-1" transform="translate(84)"><ellipse class="g" rx="17.5" ry="21"/><use href="#L"/></g><g id="k14-2" transform="translate(136)"><ellipse class="g" rx="17.5" ry="21"/><use href="#L"/></g><g id="k14-3" transform="translate(188)"><ellipse class="g" rx="17.5" ry="21"/><use href="#L"/></g><g id="k14-4" transform="translate(240)"><ellipse class="g" rx="17.5" ry="21"/><use href="#L"/></g><g id="k14-5" transform="translate(292)"><ellipse class="g" rx="17.5" ry="21"/><use href="#L"/></g><g id="k14-6" transform="translate(344)"><ellipse class="p" rx="17.5" ry="21"/><use href="#L"/></g><g id="k14-7" transform="translate(396)"><ellipse class="m" rx="17.5" ry="21"/><use href="#L"/></g><g id="k14-8" transform="translate(448)"><ellipse class="m" rx="17.5" ry="21"/><use href="#L"/></g><g id="k14-9" transform="translate(500)"><ellipse class="m" rx="17.5" ry="21"/><use href="#L"/></g><g id="k14-10" transform="translate(552)"><ellipse class="y" rx="17.5" ry="21"/><use href="#Lb"/></g><g id="k14-11" transform="translate(604)"><ellipse class="y" rx="17.5" ry="21"/><use href="#Lb"/></g><g id="k14-12" transform="translate(656)"><ellipse class="m" rx="17.5" ry="21"/><use href="#L"/></g><g id="k14-13" transform="translate(708)"><ellipse class="p" rx="17.5" ry="21"/><use href="#L"/></g><g id="k14-14" transform="translate(760)"><ellipse class="g" rx="17.5" ry="21"/><use href="#L"/></g><g id="k14-15" transform="translate(812)"><ellipse class="g" rx="17.5" ry="21"/><use href="#L"/></g><g id="k14-16" transform="translate(864)"><ellipse class="g" rx="17.5" ry="21"/><use href="#L"/></g><g id="k14-17" transform="translate(916)"><ellipse class="g" rx="17.5" ry="21"/><use href="#L"/></g>
</g>
<g id="row15" transform="translate(0 790)">
<g id="k15-1" transform="translate(84)"><ellipse class="g" rx="17.5" ry="21"/><use href="#R"/></g><g id="k15-2" transform="translate(136)"><ellipse class="g" rx="17.5" ry="21"/><use href="#R"/></g><g id="k15-3" transform="translate(188)"><ellipse class="g" rx="17.5" ry="21"/><use href="#R"/></g><g id="k15-4" transform="translate(240)"><ellipse class="g" rx="17.5" ry="21"/><use href="#R"/></g><g id="k15-5" transform="translate(292)"><ellipse class="d" rx="17.5" ry="21"/><use href="#R"/></g><g id="k15-6" transform="translate(344)"><ellipse class="d" rx="17.5" ry="21"/><use href="#R"/></g><g id="k15-7" transform="translate(396)"><ellipse class="d" rx="17.5" ry="21"/><use href="#R"/></g><g id="k15-8" transform="translate(448)"><ellipse class="m" rx="17.5" ry="21"/><use href="#R"/></g><g id="k15-9" transform="translate(500)"><ellipse class="m" rx="17.5" ry="21"/><use href="#R"/></g><g id="k15-10" transform="translate(552)"><ellipse class="m" rx="17.5" ry="21"/><use href="#R"/></g><g id="k15-11" transform="translate(604)"><ellipse class="m" rx="17.5" ry="21"/><use href="#R"/></g><g id="k15-12" transform="translate(656)"><ellipse class="d" rx="17.5" ry="21"/><use href="#R"/></g><g id="k15-13" transform="translate(708)"><ellipse class="d" rx="17.5" ry="21"/><use href="#R"/></g><g id="k15-14" transform="translate(760)"><ellipse class="d" rx="17.5" ry="21"/><use href="#R"/></g><g id="k15-15" transform="translate(812)"><ellipse class="g" rx="17.5" ry="21"/><use href="#R"/></g><g id="k15-16" transform="translate(864)"><ellipse class="g" rx="17.5" ry="21"/><use href="#R"/></g><g id="k15-17" transform="translate(916)"><ellipse class="g" rx="17.5" ry="21"/><use href="#R"/></g>
</g>
<g id="row16" transform="translate(0 842)">
<g id="k16-1" transform="translate(84)"><ellipse class="g" rx="17.5" ry="21"/><use href="#L"/></g><g id="k16-2" transform="translate(136)"><ellipse class="g" rx="17.5" ry="21"/><use href="#L"/></g><g id="k16-3" transform="translate(188)"><ellipse class="g" rx="17.5" ry="21"/><use href="#L"/></g><g id="k16-4" transform="translate(240)"><ellipse class="g" rx="17.5" ry="21"/><use href="#L"/></g><g id="k16-5" transform="translate(292)"><ellipse class="d" rx="17.5" ry="21"/><use href="#L"/></g><g id="k16-6" transform="translate(344)"><ellipse class="l" rx="17.5" ry="21"/><use href="#L"/></g><g id="k16-7" transform="translate(396)"><ellipse class="l" rx="17.5" ry="21"/><use href="#L"/></g><g id="k16-8" transform="translate(448)"><ellipse class="d" rx="17.5" ry="21"/><use href="#L"/></g><g id="k16-9" transform="translate(500)"><ellipse class="d" rx="17.5" ry="21"/><use href="#L"/></g><g id="k16-10" transform="translate(552)"><ellipse class="d" rx="17.5" ry="21"/><use href="#L"/></g><g id="k16-11" transform="translate(604)"><ellipse class="d" rx="17.5" ry="21"/><use href="#L"/></g><g id="k16-12" transform="translate(656)"><ellipse class="l" rx="17.5" ry="21"/><use href="#L"/></g><g id="k16-13" transform="translate(708)"><ellipse class="l" rx="17.5" ry="21"/><use href="#L"/></g><g id="k16-14" transform="translate(760)"><ellipse class="d" rx="17.5" ry="21"/><use href="#L"/></g><g id="k16-15" transform="translate(812)"><ellipse class="g" rx="17.5" ry="21"/><use href="#L"/></g><g id="k16-16" transform="translate(864)"><ellipse class="g" rx="17.5" ry="21"/><use href="#L"/></g><g id="k16-17" transform="translate(916)"><ellipse class="g" rx="17.5" ry="21"/><use href="#L"/></g>
</g>
<g id="row17" transform="translate(0 894)">
<g id="k17-1" transform="translate(84)"><ellipse class="g" rx="17.5" ry="21"/><use href="#R"/></g><g id="k17-2" transform="translate(136)"><ellipse class="g" rx="17.5" ry="21"/><use href="#R"/></g><g id="k17-3" transform="translate(188)"><ellipse class="g" rx="17.5" ry="21"/><use href="#R"/></g><g id="k17-4" transform="translate(240)"><ellipse class="d" rx="17.5" ry="21"/><use href="#R"/></g><g id="k17-5" transform="translate(292)"><ellipse class="h" rx="17.5" ry="21"/><use href="#R"/></g><g id="k17-6" transform="translate(344)"><ellipse class="h" rx="17.5" ry="21"/><use href="#R"/></g><g id="k17-7" transform="translate(396)"><ellipse class="k" rx="17.5" ry="21"/><use href="#R"/></g><g id="k17-8" transform="translate(448)"><ellipse class="l" rx="17.5" ry="21"/><use href="#R"/></g><g id="k17-9" transform="translate(500)"><ellipse class="l" rx="17.5" ry="21"/><use href="#R"/></g><g id="k17-10" transform="translate(552)"><ellipse class="l" rx="17.5" ry="21"/><use href="#R"/></g><g id="k17-11" transform="translate(604)"><ellipse class="l" rx="17.5" ry="21"/><use href="#R"/></g><g id="k17-12" transform="translate(656)"><ellipse class="k" rx="17.5" ry="21"/><use href="#R"/></g><g id="k17-13" transform="translate(708)"><ellipse class="h" rx="17.5" ry="21"/><use href="#R"/></g><g id="k17-14" transform="translate(760)"><ellipse class="h" rx="17.5" ry="21"/><use href="#R"/></g><g id="k17-15" transform="translate(812)"><ellipse class="d" rx="17.5" ry="21"/><use href="#R"/></g><g id="k17-16" transform="translate(864)"><ellipse class="g" rx="17.5" ry="21"/><use href="#R"/></g><g id="k17-17" transform="translate(916)"><ellipse class="g" rx="17.5" ry="21"/><use href="#R"/></g>
</g>
<g id="row18" transform="translate(0 946)">
<g id="k18-1" transform="translate(84)"><ellipse class="g" rx="17.5" ry="21"/><use href="#L"/></g><g id="k18-2" transform="translate(136)"><ellipse class="g" rx="17.5" ry="21"/><use href="#L"/></g><g id="k18-3" transform="translate(188)"><ellipse class="g" rx="17.5" ry="21"/><use href="#L"/></g><g id="k18-4" transform="translate(240)"><ellipse class="d" rx="17.5" ry="21"/><use href="#L"/></g><g id="k18-5" transform="translate(292)"><ellipse class="h" rx="17.5" ry="21"/><use href="#L"/></g><g id="k18-6" transform="translate(344)"><ellipse class="h" rx="17.5" ry="21"/><use href="#L"/></g><g id="k18-7" transform="translate(396)"><ellipse class="l" rx="17.5" ry="21"/><use href="#L"/></g><g id="k18-8" transform="translate(448)"><ellipse class="o" rx="17.5" ry="21"/><use href="#L"/></g><g id="k18-9" transform="translate(500)"><ellipse class="o" rx="17.5" ry="21"/><use href="#L"/></g><g id="k18-10" transform="translate(552)"><ellipse class="o" rx="17.5" ry="21"/><use href="#L"/></g><g id="k18-11" transform="translate(604)"><ellipse class="o" rx="17.5" ry="21"/><use href="#L"/></g><g id="k18-12" transform="translate(656)"><ellipse class="l" rx="17.5" ry="21"/><use href="#L"/></g><g id="k18-13" transform="translate(708)"><ellipse class="h" rx="17.5" ry="21"/><use href="#L"/></g><g id="k18-14" transform="translate(760)"><ellipse class="h" rx="17.5" ry="21"/><use href="#L"/></g><g id="k18-15" transform="translate(812)"><ellipse class="d" rx="17.5" ry="21"/><use href="#L"/></g><g id="k18-16" transform="translate(864)"><ellipse class="g" rx="17.5" ry="21"/><use href="#L"/></g><g id="k18-17" transform="translate(916)"><ellipse class="g" rx="17.5" ry="21"/><use href="#L"/></g>
</g>
<g id="row19" transform="translate(0 998)">
<g id="k19-1" transform="translate(84)"><ellipse class="g" rx="17.5" ry="21"/><use href="#R"/></g><g id="k19-2" transform="translate(136)"><ellipse class="g" rx="17.5" ry="21"/><use href="#R"/></g><g id="k19-3" transform="translate(188)"><ellipse class="g" rx="17.5" ry="21"/><use href="#R"/></g><g id="k19-4" transform="translate(240)"><ellipse class="p" rx="17.5" ry="21"/><use href="#R"/></g><g id="k19-5" transform="translate(292)"><ellipse class="m" rx="17.5" ry="21"/><use href="#R"/></g><g id="k19-6" transform="translate(344)"><ellipse class="m" rx="17.5" ry="21"/><use href="#R"/></g><g id="k19-7" transform="translate(396)"><ellipse class="l" rx="17.5" ry="21"/><use href="#R"/></g><g id="k19-8" transform="translate(448)"><ellipse class="l" rx="17.5" ry="21"/><use href="#R"/></g><g id="k19-9" transform="translate(500)"><ellipse class="l" rx="17.5" ry="21"/><use href="#R"/></g><g id="k19-10" transform="translate(552)"><ellipse class="l" rx="17.5" ry="21"/><use href="#R"/></g><g id="k19-11" transform="translate(604)"><ellipse class="l" rx="17.5" ry="21"/><use href="#R"/></g><g id="k19-12" transform="translate(656)"><ellipse class="l" rx="17.5" ry="21"/><use href="#R"/></g><g id="k19-13" transform="translate(708)"><ellipse class="m" rx="17.5" ry="21"/><use href="#R"/></g><g id="k19-14" transform="translate(760)"><ellipse class="m" rx="17.5" ry="21"/><use href="#R"/></g><g id="k19-15" transform="translate(812)"><ellipse class="p" rx="17.5" ry="21"/><use href="#R"/></g><g id="k19-16" transform="translate(864)"><ellipse class="g" rx="17.5" ry="21"/><use href="#R"/></g><g id="k19-17" transform="translate(916)"><ellipse class="g" rx="17.5" ry="21"/><use href="#R"/></g>
</g>
<g id="row20" transform="translate(0 1050)">
<g id="k20-1" transform="translate(84)"><ellipse class="g" rx="17.5" ry="21"/><use href="#L"/></g><g id="k20-2" transform="translate(136)"><ellipse class="g" rx="17.5" ry="21"/><use href="#L"/></g><g id="k20-3" transform="translate(188)"><ellipse class="p" rx="17.5" ry="21"/><use href="#L"/></g><g id="k20-4" transform="translate(240)"><ellipse class="m" rx="17.5" ry="21"/><use href="#L"/></g><g id="k20-5" transform="translate(292)"><ellipse class="p" rx="17.5" ry="21"/><use href="#L"/></g><g id="k20-6" transform="translate(344)"><ellipse class="p" rx="17.5" ry="21"/><use href="#L"/></g><g id="k20-7" transform="translate(396)"><ellipse class="p" rx="17.5" ry="21"/><use href="#L"/></g><g id="k20-8" transform="translate(448)"><ellipse class="p" rx="17.5" ry="21"/><use href="#L"/></g><g id="k20-9" transform="translate(500)"><ellipse class="m" rx="17.5" ry="21"/><use href="#L"/></g><g id="k20-10" transform="translate(552)"><ellipse class="m" rx="17.5" ry="21"/><use href="#L"/></g><g id="k20-11" transform="translate(604)"><ellipse class="p" rx="17.5" ry="21"/><use href="#L"/></g><g id="k20-12" transform="translate(656)"><ellipse class="p" rx="17.5" ry="21"/><use href="#L"/></g><g id="k20-13" transform="translate(708)"><ellipse class="m" rx="17.5" ry="21"/><use href="#L"/></g><g id="k20-14" transform="translate(760)"><ellipse class="m" rx="17.5" ry="21"/><use href="#L"/></g><g id="k20-15" transform="translate(812)"><ellipse class="p" rx="17.5" ry="21"/><use href="#L"/></g><g id="k20-16" transform="translate(864)"><ellipse class="g" rx="17.5" ry="21"/><use href="#L"/></g><g id="k20-17" transform="translate(916)"><ellipse class="g" rx="17.5" ry="21"/><use href="#L"/></g>
</g>
<g id="row21" transform="translate(0 1102)">
<g id="k21-1" transform="translate(84)"><ellipse class="g" rx="17.5" ry="21"/><use href="#R"/></g><g id="k21-2" transform="translate(136)"><ellipse class="p" rx="17.5" ry="21"/><use href="#R"/></g><g id="k21-3" transform="translate(188)"><ellipse class="p" rx="17.5" ry="21"/><use href="#R"/></g><g id="k21-4" transform="translate(240)"><ellipse class="p" rx="17.5" ry="21"/><use href="#R"/></g><g id="k21-5" transform="translate(292)"><ellipse class="l" rx="17.5" ry="21"/><use href="#R"/></g><g id="k21-6" transform="translate(344)"><ellipse class="l" rx="17.5" ry="21"/><use href="#R"/></g><g id="k21-7" transform="translate(396)"><ellipse class="l" rx="17.5" ry="21"/><use href="#R"/></g><g id="k21-8" transform="translate(448)"><ellipse class="l" rx="17.5" ry="21"/><use href="#R"/></g><g id="k21-9" transform="translate(500)"><ellipse class="p" rx="17.5" ry="21"/><use href="#R"/></g><g id="k21-10" transform="translate(552)"><ellipse class="p" rx="17.5" ry="21"/><use href="#R"/></g><g id="k21-11" transform="translate(604)"><ellipse class="l" rx="17.5" ry="21"/><use href="#R"/></g><g id="k21-12" transform="translate(656)"><ellipse class="l" rx="17.5" ry="21"/><use href="#R"/></g><g id="k21-13" transform="translate(708)"><ellipse class="p" rx="17.5" ry="21"/><use href="#R"/></g><g id="k21-14" transform="translate(760)"><ellipse class="m" rx="17.5" ry="21"/><use href="#R"/></g><g id="k21-15" transform="translate(812)"><ellipse class="m" rx="17.5" ry="21"/><use href="#R"/></g><g id="k21-16" transform="translate(864)"><ellipse class="p" rx="17.5" ry="21"/><use href="#R"/></g><g id="k21-17" transform="translate(916)"><ellipse class="g" rx="17.5" ry="21"/><use href="#R"/></g>
</g>
<g id="row22" transform="translate(0 1154)">
<g id="k22-1" transform="translate(84)"><ellipse class="g" rx="17.5" ry="21"/><use href="#L"/></g><g id="k22-2" transform="translate(136)"><ellipse class="d" rx="17.5" ry="21"/><use href="#L"/></g><g id="k22-3" transform="translate(188)"><ellipse class="l" rx="17.5" ry="21"/><use href="#L"/></g><g id="k22-4" transform="translate(240)"><ellipse class="l" rx="17.5" ry="21"/><use href="#L"/></g><g id="k22-5" transform="translate(292)"><ellipse class="l" rx="17.5" ry="21"/><use href="#L"/></g><g id="k22-6" transform="translate(344)"><ellipse class="l" rx="17.5" ry="21"/><use href="#L"/></g><g id="k22-7" transform="translate(396)"><ellipse class="l" rx="17.5" ry="21"/><use href="#L"/></g><g id="k22-8" transform="translate(448)"><ellipse class="l" rx="17.5" ry="21"/><use href="#L"/></g><g id="k22-9" transform="translate(500)"><ellipse class="l" rx="17.5" ry="21"/><use href="#L"/></g><g id="k22-10" transform="translate(552)"><ellipse class="l" rx="17.5" ry="21"/><use href="#L"/></g><g id="k22-11" transform="translate(604)"><ellipse class="l" rx="17.5" ry="21"/><use href="#L"/></g><g id="k22-12" transform="translate(656)"><ellipse class="l" rx="17.5" ry="21"/><use href="#L"/></g><g id="k22-13" transform="translate(708)"><ellipse class="l" rx="17.5" ry="21"/><use href="#L"/></g><g id="k22-14" transform="translate(760)"><ellipse class="p" rx="17.5" ry="21"/><use href="#L"/></g><g id="k22-15" transform="translate(812)"><ellipse class="p" rx="17.5" ry="21"/><use href="#L"/></g><g id="k22-16" transform="translate(864)"><ellipse class="p" rx="17.5" ry="21"/><use href="#L"/></g><g id="k22-17" transform="translate(916)"><ellipse class="g" rx="17.5" ry="21"/><use href="#L"/></g>
</g>
<g id="row23" transform="translate(0 1206)">
<g id="k23-1" transform="translate(84)"><ellipse class="g" rx="17.5" ry="21"/><use href="#R"/></g><g id="k23-2" transform="translate(136)"><ellipse class="d" rx="17.5" ry="21"/><use href="#R"/></g><g id="k23-3" transform="translate(188)"><ellipse class="l" rx="17.5" ry="21"/><use href="#R"/></g><g id="k23-4" transform="translate(240)"><ellipse class="l" rx="17.5" ry="21"/><use href="#R"/></g><g id="k23-5" transform="translate(292)"><ellipse class="l" rx="17.5" ry="21"/><use href="#R"/></g><g id="k23-6" transform="translate(344)"><ellipse class="d" rx="17.5" ry="21"/><use href="#R"/></g><g id="k23-7" transform="translate(396)"><ellipse class="l" rx="17.5" ry="21"/><use href="#R"/></g><g id="k23-8" transform="translate(448)"><ellipse class="d" rx="17.5" ry="21"/><use href="#R"/></g><g id="k23-9" transform="translate(500)"><ellipse class="l" rx="17.5" ry="21"/><use href="#R"/></g><g id="k23-10" transform="translate(552)"><ellipse class="d" rx="17.5" ry="21"/><use href="#R"/></g><g id="k23-11" transform="translate(604)"><ellipse class="l" rx="17.5" ry="21"/><use href="#R"/></g><g id="k23-12" transform="translate(656)"><ellipse class="d" rx="17.5" ry="21"/><use href="#R"/></g><g id="k23-13" transform="translate(708)"><ellipse class="l" rx="17.5" ry="21"/><use href="#R"/></g><g id="k23-14" transform="translate(760)"><ellipse class="l" rx="17.5" ry="21"/><use href="#R"/></g><g id="k23-15" transform="translate(812)"><ellipse class="l" rx="17.5" ry="21"/><use href="#R"/></g><g id="k23-16" transform="translate(864)"><ellipse class="d" rx="17.5" ry="21"/><use href="#R"/></g><g id="k23-17" transform="translate(916)"><ellipse class="g" rx="17.5" ry="21"/><use href="#R"/></g>
</g>
<g id="row24" transform="translate(0 1258)">
<g id="k24-1" transform="translate(84)"><ellipse class="g" rx="17.5" ry="21"/><use href="#L"/></g><g id="k24-2" transform="translate(136)"><ellipse class="d" rx="17.5" ry="21"/><use href="#L"/></g><g id="k24-3" transform="translate(188)"><ellipse class="l" rx="17.5" ry="21"/><use href="#L"/></g><g id="k24-4" transform="translate(240)"><ellipse class="l" rx="17.5" ry="21"/><use href="#L"/></g><g id="k24-5" transform="translate(292)"><ellipse class="d" rx="17.5" ry="21"/><use href="#L"/></g><g id="k24-6" transform="translate(344)"><ellipse class="d" rx="17.5" ry="21"/><use href="#L"/></g><g id="k24-7" transform="translate(396)"><ellipse class="l" rx="17.5" ry="21"/><use href="#L"/></g><g id="k24-8" transform="translate(448)"><ellipse class="d" rx="17.5" ry="21"/><use href="#L"/></g><g id="k24-9" transform="translate(500)"><ellipse class="d" rx="17.5" ry="21"/><use href="#L"/></g><g id="k24-10" transform="translate(552)"><ellipse class="d" rx="17.5" ry="21"/><use href="#L"/></g><g id="k24-11" transform="translate(604)"><ellipse class="l" rx="17.5" ry="21"/><use href="#L"/></g><g id="k24-12" transform="translate(656)"><ellipse class="d" rx="17.5" ry="21"/><use href="#L"/></g><g id="k24-13" transform="translate(708)"><ellipse class="d" rx="17.5" ry="21"/><use href="#L"/></g><g id="k24-14" transform="translate(760)"><ellipse class="l" rx="17.5" ry="21"/><use href="#L"/></g><g id="k24-15" transform="translate(812)"><ellipse class="l" rx="17.5" ry="21"/><use href="#L"/></g><g id="k24-16" transform="translate(864)"><ellipse class="d" rx="17.5" ry="21"/><use href="#L"/></g><g id="k24-17" transform="translate(916)"><ellipse class="g" rx="17.5" ry="21"/><use href="#L"/></g>
</g>
<g id="row25" transform="translate(0 1310)">
<g id="k25-1" transform="translate(84)"><ellipse class="g" rx="17.5" ry="21"/><use href="#R"/></g><g id="k25-2" transform="translate(136)"><ellipse class="g" rx="17.5" ry="21"/><use href="#R"/></g><g id="k25-3" transform="translate(188)"><ellipse class="d" rx="17.5" ry="21"/><use href="#R"/></g><g id="k25-4" transform="translate(240)"><ellipse class="d" rx="17.5" ry="21"/><use href="#R"/></g><g id="k25-5" transform="translate(292)"><ellipse class="g" rx="17.5" ry="21"/><use href="#R"/></g><g id="k25-6" transform="translate(344)"><ellipse class="d" rx="17.5" ry="21"/><use href="#R"/></g><g id="k25-7" transform="translate(396)"><ellipse class="l" rx="17.5" ry="21"/><use href="#R"/></g><g id="k25-8" transform="translate(448)"><ellipse class="d" rx="17.5" ry="21"/><use href="#R"/></g><g id="k25-9" transform="translate(500)"><ellipse class="g" rx="17.5" ry="21"/><use href="#R"/></g><g id="k25-10" transform="translate(552)"><ellipse class="d" rx="17.5" ry="21"/><use href="#R"/></g><g id="k25-11" transform="translate(604)"><ellipse class="l" rx="17.5" ry="21"/><use href="#R"/></g><g id="k25-12" transform="translate(656)"><ellipse class="d" rx="17.5" ry="21"/><use href="#R"/></g><g id="k25-13" transform="translate(708)"><ellipse class="g" rx="17.5" ry="21"/><use href="#R"/></g><g id="k25-14" transform="translate(760)"><ellipse class="d" rx="17.5" ry="21"/><use href="#R"/></g><g id="k25-15" transform="translate(812)"><ellipse class="d" rx="17.5" ry="21"/><use href="#R"/></g><g id="k25-16" transform="translate(864)"><ellipse class="g" rx="17.5" ry="21"/><use href="#R"/></g><g id="k25-17" transform="translate(916)"><ellipse class="g" rx="17.5" ry="21"/><use href="#R"/></g>
</g>
<g id="row26" transform="translate(0 1362)">
<g id="k26-1" transform="translate(84)"><ellipse class="g" rx="17.5" ry="21"/><use href="#L"/></g><g id="k26-2" transform="translate(136)"><ellipse class="g" rx="17.5" ry="21"/><use href="#L"/></g><g id="k26-3" transform="translate(188)"><ellipse class="g" rx="17.5" ry="21"/><use href="#L"/></g><g id="k26-4" transform="translate(240)"><ellipse class="g" rx="17.5" ry="21"/><use href="#L"/></g><g id="k26-5" transform="translate(292)"><ellipse class="g" rx="17.5" ry="21"/><use href="#L"/></g><g id="k26-6" transform="translate(344)"><ellipse class="g" rx="17.5" ry="21"/><use href="#L"/></g><g id="k26-7" transform="translate(396)"><ellipse class="d" rx="17.5" ry="21"/><use href="#L"/></g><g id="k26-8" transform="translate(448)"><ellipse class="g" rx="17.5" ry="21"/><use href="#L"/></g><g id="k26-9" transform="translate(500)"><ellipse class="g" rx="17.5" ry="21"/><use href="#L"/></g><g id="k26-10" transform="translate(552)"><ellipse class="g" rx="17.5" ry="21"/><use href="#L"/></g><g id="k26-11" transform="translate(604)"><ellipse class="d" rx="17.5" ry="21"/><use href="#L"/></g><g id="k26-12" transform="translate(656)"><ellipse class="g" rx="17.5" ry="21"/><use href="#L"/></g><g id="k26-13" transform="translate(708)"><ellipse class="g" rx="17.5" ry="21"/><use href="#L"/></g><g id="k26-14" transform="translate(760)"><ellipse class="g" rx="17.5" ry="21"/><use href="#L"/></g><g id="k26-15" transform="translate(812)"><ellipse class="g" rx="17.5" ry="21"/><use href="#L"/></g><g id="k26-16" transform="translate(864)"><ellipse class="g" rx="17.5" ry="21"/><use href="#L"/></g><g id="k26-17" transform="translate(916)"><ellipse class="g" rx="17.5" ry="21"/><use href="#L"/></g>
</g>
<g id="row27" transform="translate(0 1414)">
<g id="k27-1" transform="translate(84)"><ellipse class="g" rx="17.5" ry="21"/><use href="#R"/></g><g id="k27-2" transform="translate(136)"><ellipse class="g" rx="17.5" ry="21"/><use href="#R"/></g><g id="k27-3" transform="translate(188)"><ellipse class="g" rx="17.5" ry="21"/><use href="#R"/></g><g id="k27-4" transform="translate(240)"><ellipse class="g" rx="17.5" ry="21"/><use href="#R"/></g><g id="k27-5" transform="translate(292)"><ellipse class="g" rx="17.5" ry="21"/><use href="#R"/></g><g id="k27-6" transform="translate(344)"><ellipse class="g" rx="17.5" ry="21"/><use href="#R"/></g><g id="k27-7" transform="translate(396)"><ellipse class="g" rx="17.5" ry="21"/><use href="#R"/></g><g id="k27-8" transform="translate(448)"><ellipse class="g" rx="17.5" ry="21"/><use href="#R"/></g><g id="k27-9" transform="translate(500)"><ellipse class="g" rx="17.5" ry="21"/><use href="#R"/></g><g id="k27-10" transform="translate(552)"><ellipse class="g" rx="17.5" ry="21"/><use href="#R"/></g><g id="k27-11" transform="translate(604)"><ellipse class="g" rx="17.5" ry="21"/><use href="#R"/></g><g id="k27-12" transform="translate(656)"><ellipse class="g" rx="17.5" ry="21"/><use href="#R"/></g><g id="k27-13" transform="translate(708)"><ellipse class="g" rx="17.5" ry="21"/><use href="#R"/></g><g id="k27-14" transform="translate(760)"><ellipse class="g" rx="17.5" ry="21"/><use href="#R"/></g><g id="k27-15" transform="translate(812)"><ellipse class="g" rx="17.5" ry="21"/><use href="#R"/></g><g id="k27-16" transform="translate(864)"><ellipse class="g" rx="17.5" ry="21"/><use href="#R"/></g><g id="k27-17" transform="translate(916)"><ellipse class="g" rx="17.5" ry="21"/><use href="#R"/></g>
</g>
</g>

<text id="watermark" class="wm" x="500" y="768" text-anchor="middle">BRACELETBOOK.COM</text>
</svg>
